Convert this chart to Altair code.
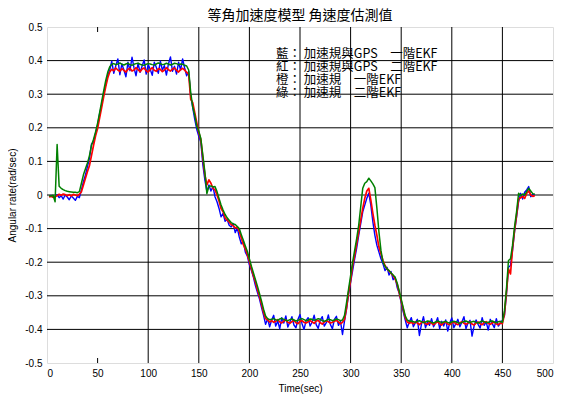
import altair as alt
import pandas as pd

TITLE = "等角加速度模型 角速度估測值"
X_TITLE = "Time(sec)"
Y_TITLE = "Angular rate(rad/sec)"

TIME = list(range(2, 484, 2))

BLUE = [
    -0.004, -0.001, -0.006, -0.003, 0.001, -0.008, -0.002, -0.012, 0.000, -0.006,
    -0.014, -0.003, -0.009, -0.016, -0.004, -0.008, 0.015, 0.040, 0.060, 0.085,
    0.110, 0.152, 0.158, 0.184, 0.208, 0.242, 0.268, 0.302, 0.328, 0.356,
    0.372, 0.398, 0.362, 0.385, 0.405, 0.358, 0.390, 0.372, 0.352, 0.395,
    0.370, 0.410, 0.378, 0.355, 0.392, 0.365, 0.384, 0.402, 0.360, 0.388,
    0.374, 0.356, 0.395, 0.380, 0.362, 0.398, 0.372, 0.385, 0.357, 0.390,
    0.411, 0.368, 0.383, 0.360, 0.395, 0.372, 0.405, 0.378, 0.355, 0.368,
    0.295, 0.260, 0.225, 0.195, 0.175, 0.158, 0.090, 0.045, 0.010, 0.030,
    0.012, 0.025, -0.005, -0.020, -0.040, -0.065, -0.055, -0.078, -0.072, -0.090,
    -0.095, -0.085, -0.112, -0.098, -0.125, -0.145, -0.138, -0.170, -0.182, -0.208,
    -0.225, -0.245, -0.270, -0.290, -0.310, -0.335, -0.358, -0.385, -0.368, -0.392,
    -0.372, -0.358, -0.390, -0.375, -0.398, -0.365, -0.381, -0.360, -0.393, -0.378,
    -0.362, -0.387, -0.395, -0.370, -0.356, -0.383, -0.400, -0.374, -0.365, -0.390,
    -0.378, -0.358, -0.386, -0.397, -0.372, -0.362, -0.390, -0.380, -0.357, -0.385,
    -0.398, -0.370, -0.361, -0.388, -0.376, -0.415, -0.375, -0.340, -0.295, -0.260,
    -0.225, -0.190, -0.158, -0.120, -0.085, -0.050, -0.030, -0.010, 0.005, -0.030,
    -0.080, -0.120, -0.150, -0.170, -0.190, -0.205, -0.225, -0.215, -0.238, -0.228,
    -0.252, -0.245, -0.275, -0.292, -0.320, -0.348, -0.372, -0.395, -0.378, -0.365,
    -0.392, -0.380, -0.370, -0.418, -0.385, -0.362, -0.395, -0.378, -0.388, -0.368,
    -0.392, -0.381, -0.365, -0.398, -0.376, -0.390, -0.372, -0.405, -0.380, -0.366,
    -0.395, -0.383, -0.370, -0.392, -0.378, -0.362, -0.398, -0.381, -0.373, -0.420,
    -0.390, -0.372, -0.385, -0.396, -0.365, -0.388, -0.378, -0.402, -0.370, -0.383,
    -0.395, -0.368, -0.390, -0.382, -0.372, -0.360, -0.295, -0.215, -0.210, -0.165,
    -0.110, -0.065, -0.020, 0.005, -0.012, 0.008, 0.015, 0.025, -0.005, 0.002,
    0.000,
]

RED = [
    -0.006, -0.004, -0.007, -0.005, -0.002, 0.002, -0.001, 0.003, 0.001, -0.002,
    0.001, -0.003, 0.002, 0.000, -0.002, 0.002, 0.010, 0.030, 0.050, 0.070,
    0.088, 0.118, 0.148, 0.176, 0.198, 0.230, 0.260, 0.292, 0.322, 0.348,
    0.366, 0.374, 0.370, 0.378, 0.372, 0.368, 0.376, 0.371, 0.366, 0.374,
    0.377, 0.369, 0.372, 0.379, 0.373, 0.367, 0.375, 0.378, 0.370, 0.366,
    0.373, 0.379, 0.371, 0.368, 0.376, 0.374, 0.367, 0.372, 0.379, 0.373,
    0.369, 0.375, 0.378, 0.371, 0.366, 0.373, 0.377, 0.372, 0.365, 0.360,
    0.285, 0.275, 0.245, 0.215, 0.185, 0.165, 0.110, 0.060, 0.030, 0.045,
    0.035, 0.020, 0.015, 0.000, -0.018, -0.040, -0.050, -0.068, -0.075, -0.080,
    -0.088, -0.092, -0.098, -0.095, -0.108, -0.128, -0.148, -0.160, -0.178, -0.198,
    -0.220, -0.240, -0.260, -0.282, -0.302, -0.325, -0.350, -0.368, -0.372, -0.378,
    -0.374, -0.379, -0.376, -0.371, -0.378, -0.381, -0.375, -0.372, -0.379, -0.382,
    -0.377, -0.373, -0.380, -0.383, -0.376, -0.374, -0.379, -0.381, -0.377, -0.374,
    -0.378, -0.382, -0.375, -0.373, -0.380, -0.384, -0.378, -0.374, -0.377, -0.381,
    -0.379, -0.376, -0.373, -0.378, -0.383, -0.379, -0.370, -0.335, -0.290, -0.255,
    -0.210, -0.180, -0.145, -0.110, -0.075, -0.040, -0.010, 0.012, 0.020, -0.015,
    -0.055, -0.090, -0.120, -0.155, -0.175, -0.195, -0.210, -0.220, -0.226, -0.233,
    -0.240, -0.250, -0.265, -0.290, -0.315, -0.340, -0.365, -0.378, -0.382, -0.379,
    -0.383, -0.378, -0.381, -0.386, -0.380, -0.377, -0.383, -0.385, -0.379, -0.382,
    -0.386, -0.381, -0.377, -0.383, -0.387, -0.380, -0.378, -0.384, -0.386, -0.381,
    -0.378, -0.383, -0.386, -0.380, -0.377, -0.382, -0.385, -0.381, -0.378, -0.384,
    -0.387, -0.381, -0.378, -0.383, -0.386, -0.380, -0.377, -0.382, -0.385, -0.381,
    -0.378, -0.384, -0.386, -0.381, -0.383, -0.355, -0.290, -0.220, -0.235, -0.160,
    -0.105, -0.060, -0.012, -0.008, -0.004, -0.010, 0.005, 0.012, 0.000, -0.004,
    -0.002,
]

GREEN = [
    -0.002, -0.003, -0.001, -0.020, 0.150, 0.026, 0.020, 0.016, 0.013, 0.011,
    0.010, 0.009, 0.008, 0.008, 0.007, 0.010, 0.035, 0.060, 0.078, 0.095,
    0.118, 0.148, 0.166, 0.188, 0.214, 0.245, 0.278, 0.310, 0.340, 0.365,
    0.382, 0.389, 0.391, 0.388, 0.390, 0.393, 0.389, 0.387, 0.390, 0.392,
    0.388, 0.386, 0.389, 0.391, 0.392, 0.389, 0.387, 0.386, 0.389, 0.391,
    0.390, 0.388, 0.387, 0.390, 0.393, 0.391, 0.388, 0.389, 0.392, 0.390,
    0.387, 0.389, 0.392, 0.391, 0.388, 0.390, 0.389, 0.386, 0.384, 0.372,
    0.305, 0.262, 0.238, 0.205, 0.190, 0.168, 0.118, 0.068, 0.004, 0.026,
    0.027, 0.024, 0.025, 0.010, -0.010, -0.030, -0.045, -0.058, -0.068, -0.075,
    -0.082, -0.086, -0.088, -0.094, -0.100, -0.118, -0.135, -0.152, -0.168, -0.190,
    -0.212, -0.232, -0.252, -0.272, -0.294, -0.316, -0.340, -0.360, -0.368, -0.371,
    -0.370, -0.368, -0.371, -0.373, -0.369, -0.367, -0.370, -0.373, -0.374, -0.371,
    -0.369, -0.372, -0.375, -0.373, -0.370, -0.368, -0.371, -0.374, -0.372, -0.369,
    -0.370, -0.373, -0.371, -0.368, -0.370, -0.374, -0.376, -0.373, -0.370, -0.371,
    -0.374, -0.372, -0.369, -0.371, -0.374, -0.372, -0.358, -0.320, -0.280, -0.240,
    -0.200, -0.165, -0.130, -0.090, -0.035, 0.020, 0.035, 0.040, 0.050, 0.042,
    0.033, 0.022, -0.040, -0.110, -0.165, -0.200, -0.212, -0.220, -0.225, -0.232,
    -0.238, -0.245, -0.262, -0.285, -0.310, -0.335, -0.360, -0.372, -0.376, -0.375,
    -0.377, -0.379, -0.376, -0.374, -0.377, -0.380, -0.378, -0.375, -0.376, -0.379,
    -0.381, -0.378, -0.375, -0.377, -0.380, -0.378, -0.376, -0.379, -0.381, -0.378,
    -0.376, -0.377, -0.380, -0.382, -0.379, -0.376, -0.375, -0.378, -0.380, -0.377,
    -0.376, -0.379, -0.381, -0.378, -0.375, -0.377, -0.380, -0.379, -0.376, -0.375,
    -0.378, -0.380, -0.377, -0.376, -0.379, -0.345, -0.280, -0.195, -0.190, -0.150,
    -0.095, -0.050, 0.005, -0.002, 0.003, 0.000, 0.010, 0.020, 0.012, 0.004,
    0.003,
]

X_TICKS = [0, 50, 100, 150, 200, 250, 300, 350, 400, 450, 500]
Y_TICKS = [-0.5, -0.4, -0.3, -0.2, -0.1, 0, 0.1, 0.2, 0.3, 0.4, 0.5]
X_GRID = [100, 150, 200, 250, 300, 350, 400, 450]
X_TICK_ONLY = [50]
Y_GRID = [-0.4, -0.3, -0.2, -0.1, 0, 0.1, 0.2, 0.3, 0.4]

LEGEND_LINES = [
    "藍： 加速規與GPS　一階EKF",
    "紅： 加速規與GPS　二階EKF",
    "橙： 加速規　一階EKF",
    "綠： 加速規　二階EKF",
]

W, H = 506, 336
LATIN = "Liberation Sans"
CJK = "Noto Sans CJK TC"

df = pd.DataFrame({"t": TIME, "blue": BLUE, "red": RED, "green": GREEN})

xs = alt.Scale(domain=[0, 500], nice=False, zero=False)
ys = alt.Scale(domain=[-0.5, 0.5], nice=False, zero=False)

x_axis = alt.Axis(
    values=X_TICKS, grid=False, ticks=False, domain=False,
    labelPadding=5, labelFont=LATIN, labelFontSize=10, labelColor="black",
    title=X_TITLE, titleFont=LATIN, titleFontSize=10, titleFontWeight="normal",
    titleColor="black", titleX=W / 2, titleY=25, titleBaseline="middle",
    titleAlign="center",
)
y_axis = alt.Axis(
    values=Y_TICKS, grid=False, ticks=False, domain=False,
    labelExpr="datum.value == 0 ? '0' : (datum.value < 0 ? '-' : '') + format(abs(datum.value), '.1f')",
    labelPadding=5, labelFont=LATIN, labelFontSize=10, labelColor="black",
    title=Y_TITLE, titleFont=LATIN, titleFontSize=10, titleFontWeight="normal",
    titleColor="black", titleX=-35, titleY=H / 2, titleBaseline="middle",
    titleAlign="center",
)

X_ENC = alt.X("t:Q", scale=xs, axis=x_axis)
base = alt.Chart(df)

blue = base.mark_line(color="#0000FF", strokeWidth=1.4, strokeJoin="round").encode(
    x=X_ENC, y=alt.Y("blue:Q", scale=ys, axis=y_axis),
)
red = base.mark_line(color="#FF0000", strokeWidth=1.7, strokeJoin="round").encode(
    x=X_ENC, y=alt.Y("red:Q", scale=ys, axis=y_axis),
)
green = base.mark_line(color="#008000", strokeWidth=1.5, strokeJoin="round").encode(
    x=X_ENC, y=alt.Y("green:Q", scale=ys, axis=y_axis),
)

vgrid = alt.Chart(pd.DataFrame({"t": X_GRID})).mark_rule(
    color="black", strokeWidth=1
).encode(x=X_ENC)

hgrid = alt.Chart(pd.DataFrame({"blue": Y_GRID})).mark_rule(
    color="black", strokeWidth=1
).encode(y=alt.Y("blue:Q", scale=ys, axis=y_axis))

tick_top = alt.Chart(pd.DataFrame({"t": X_TICK_ONLY})).mark_rule(
    color="black", strokeWidth=1
).encode(x=X_ENC, y=alt.value(0), y2=alt.value(5))

tick_bot = alt.Chart(pd.DataFrame({"t": X_TICK_ONLY})).mark_rule(
    color="black", strokeWidth=1
).encode(x=X_ENC, y=alt.value(H - 5), y2=alt.value(H))

legend_text = alt.Chart(pd.DataFrame({"s": ["\n".join(LEGEND_LINES)]})).mark_text(
    align="left", baseline="top", lineBreak="\n", lineHeight=13,
    font=CJK, fontSize=12.5, color="black",
).encode(x=alt.value(229), y=alt.value(21), text="s:N")

title_text = alt.Chart(pd.DataFrame({"s": [TITLE]})).mark_text(
    align="center", baseline="middle", font=CJK, fontSize=14, color="black",
).encode(x=alt.value(W / 2), y=alt.value(-11), text="s:N")

chart = alt.layer(
    vgrid, hgrid, tick_top, tick_bot, blue, red, green, legend_text, title_text
).properties(
    width=W, height=H,
    padding={"left": 39, "top": 19, "right": 6, "bottom": 40},
    autosize=alt.AutoSizeParams(type="none"),
).configure_view(stroke="black", strokeWidth=1.5).configure(background="white")

chart.save("out.html", embed_options={"renderer": "svg", "actions": False})
